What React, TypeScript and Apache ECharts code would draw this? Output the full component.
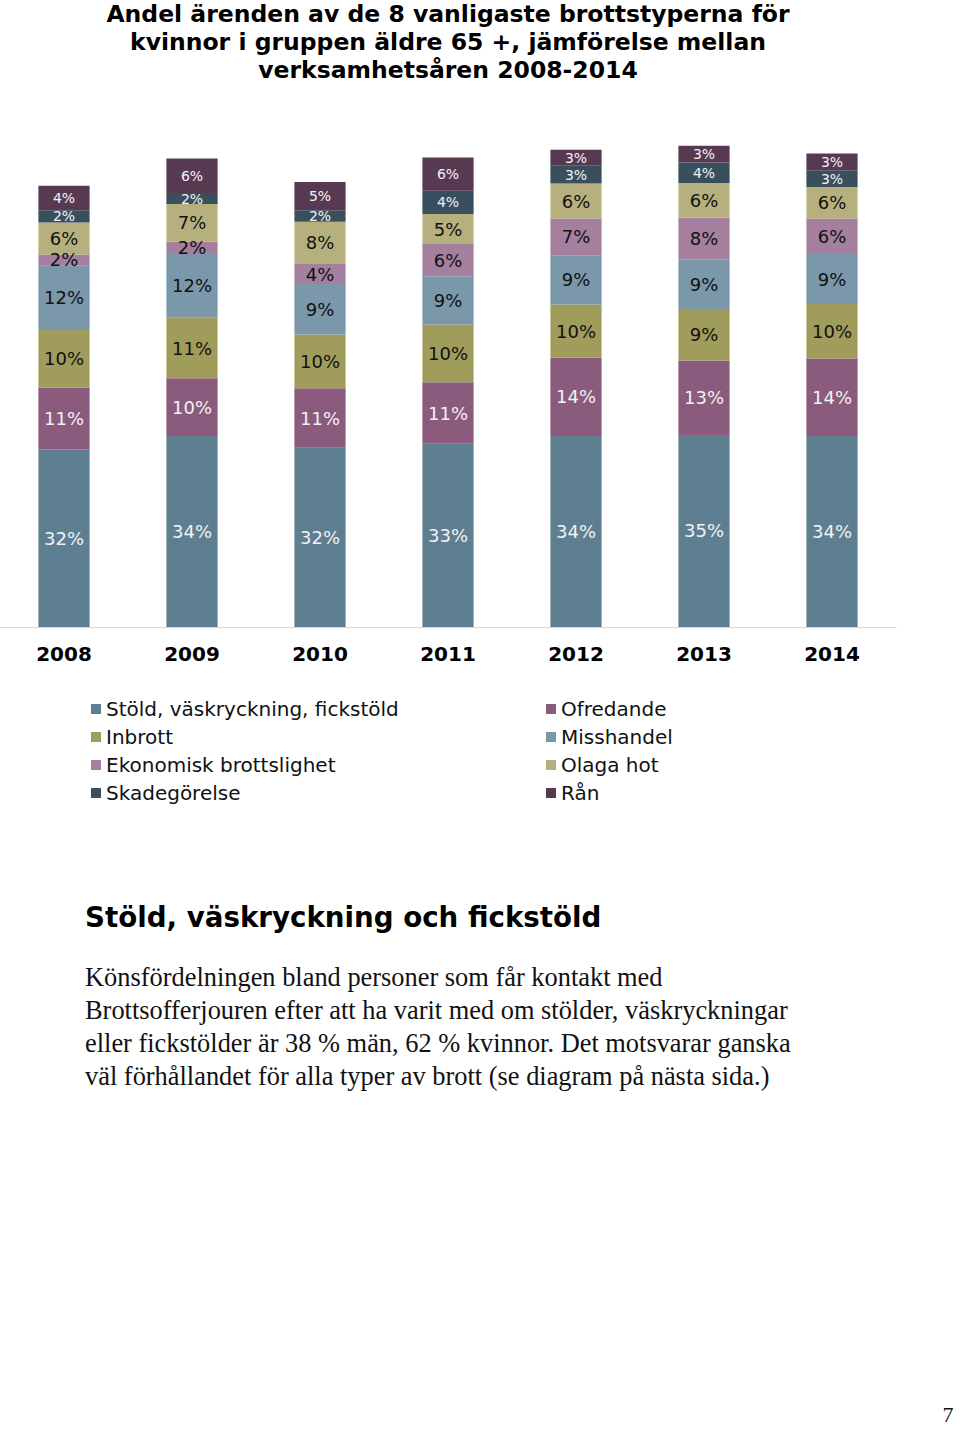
import React, { useEffect, useRef } from "react";
import * as echarts from "echarts";

const years = ["2008", "2009", "2010", "2011", "2012", "2013", "2014"];
// Shares in percent (labels show rounded values)
const stold = [32.0, 34.4, 32.3, 33.0, 34.4, 34.6, 34.4];
const ofredande = [11.1, 10.4, 10.7, 11.1, 14.1, 13.4, 14.0];
const inbrott = [10.4, 10.9, 9.7, 10.4, 9.6, 9.3, 9.8];
const misshandel = [11.7, 11.7, 9.1, 8.7, 8.9, 8.9, 9.0];
const ekonomisk = [1.9, 2.0, 3.6, 5.8, 6.6, 7.6, 6.4];
const olagaHot = [5.8, 6.8, 7.6, 5.4, 6.3, 6.2, 5.7];
const skadegorelse = [2.2, 2.0, 2.1, 4.2, 3.2, 3.7, 3.0];
const ran = [4.4, 6.2, 5.1, 6.0, 2.9, 3.0, 3.0];

const titleText =
  "Andel ärenden av de 8 vanligaste brottstyperna för\nkvinnor i gruppen äldre 65 +, jämförelse mellan\nverksamhetsåren 2008-2014";
const headingText = "Stöld, väskryckning och fickstöld";
const bodyLines = [
  "Könsfördelningen bland personer som får kontakt med",
  "Brottsofferjouren efter att ha varit med om stölder, väskryckningar",
  "eller fickstölder är 38 % män, 62 % kvinnor. Det motsvarar ganska",
  "väl förhållandet för alla typer av brott (se diagram på nästa sida.)",
];
const pageNumber = "7";

const SANS = "'DejaVu Sans', Verdana, sans-serif";

const seriesDefs = [
  { name: "Stöld, väskryckning, fickstöld", data: stold, color: "#5e7e92", label: "#f2f2f2", size: 18 },
  { name: "Ofredande", data: ofredande, color: "#8a5b7d", label: "#f2f2f2", size: 18 },
  { name: "Inbrott", data: inbrott, color: "#a09c5c", label: "#111111", size: 18 },
  { name: "Misshandel", data: misshandel, color: "#7b98ab", label: "#111111", size: 18 },
  { name: "Ekonomisk brottslighet", data: ekonomisk, color: "#a47f9e", label: "#111111", size: 18 },
  { name: "Olaga hot", data: olagaHot, color: "#b6b07f", label: "#111111", size: 18 },
  { name: "Skadegörelse", data: skadegorelse, color: "#3a4f5e", label: "#f2f2f2", size: 14 },
  { name: "Rån", data: ran, color: "#573a52", label: "#f2f2f2", size: 14 },
];

export default function App() {
  const ref = useRef<HTMLDivElement>(null);
  useEffect(() => {
    if (!ref.current) return;
    const chart = echarts.init(ref.current, null, { renderer: "svg" });
    const legendCommon = {
      orient: "vertical",
      itemWidth: 10,
      itemHeight: 10,
      itemGap: 8,
      padding: 0,
      icon: "rect",
      textStyle: { fontFamily: SANS, fontSize: 20, color: "#111", lineHeight: 20 },
    };
    chart.setOption({
      animation: false,
      backgroundColor: "#ffffff",
      title: {
        text: titleText,
        left: 448,
        top: 0,
        textAlign: "center",
        padding: 0,
        textStyle: {
          fontFamily: SANS,
          fontWeight: "bold",
          fontSize: 23.5,
          lineHeight: 28,
          color: "#000",
        },
      },
      legend: [
        {
          ...legendCommon,
          left: 91,
          top: 699,
          data: [seriesDefs[0].name, seriesDefs[2].name, seriesDefs[4].name, seriesDefs[6].name],
        },
        {
          ...legendCommon,
          left: 546,
          top: 699,
          data: [seriesDefs[1].name, seriesDefs[3].name, seriesDefs[5].name, seriesDefs[7].name],
        },
      ],
      grid: { left: 0, top: 72, width: 896, height: 555, containLabel: false },
      xAxis: {
        type: "category",
        data: years,
        axisLine: { show: true, lineStyle: { color: "#ddd6da", width: 1 } },
        axisTick: { show: false },
        axisLabel: {
          fontFamily: SANS,
          fontWeight: "bold",
          fontSize: 20,
          color: "#000",
          margin: 17,
        },
      },
      yAxis: {
        type: "value",
        min: 0,
        max: 100,
        show: false,
        splitLine: { show: false },
      },
      series: seriesDefs.map((s) => ({
        name: s.name,
        type: "bar",
        stack: "total",
        barWidth: "40%",
        data: s.data,
        itemStyle: { color: s.color },
        label: {
          show: true,
          position: "inside",
          formatter: (p: any) => Math.round(p.value) + "%",
          fontFamily: SANS,
          fontSize: s.size,
          color: s.label,
          textBorderWidth: 0,
        },
      })),
      graphic: [
        {
          type: "text",
          x: 85,
          y: 917,
          style: {
            text: headingText,
            font: "bold 27.7px 'DejaVu Sans', sans-serif",
            fill: "#000",
            align: "left",
            verticalAlign: "middle",
          },
        },
        {
          type: "text",
          x: 85,
          y: 960.5,
          style: {
            text: bodyLines.join("\n"),
            font: "26.4px 'Liberation Serif', serif",
            lineHeight: 33,
            fill: "#111",
            align: "left",
            verticalAlign: "top",
          },
        },
        {
          type: "text",
          x: 948,
          y: 1414,
          style: {
            text: pageNumber,
            font: "22px 'Liberation Serif', serif",
            fill: "#111",
            align: "center",
            verticalAlign: "middle",
          },
        },
      ],
    });
    return () => chart.dispose();
  }, []);
  return (
    <div
      ref={ref}
      style={{ position: "absolute", left: 0, top: 0, width: 960, height: 1430 }}
    />
  );
}
